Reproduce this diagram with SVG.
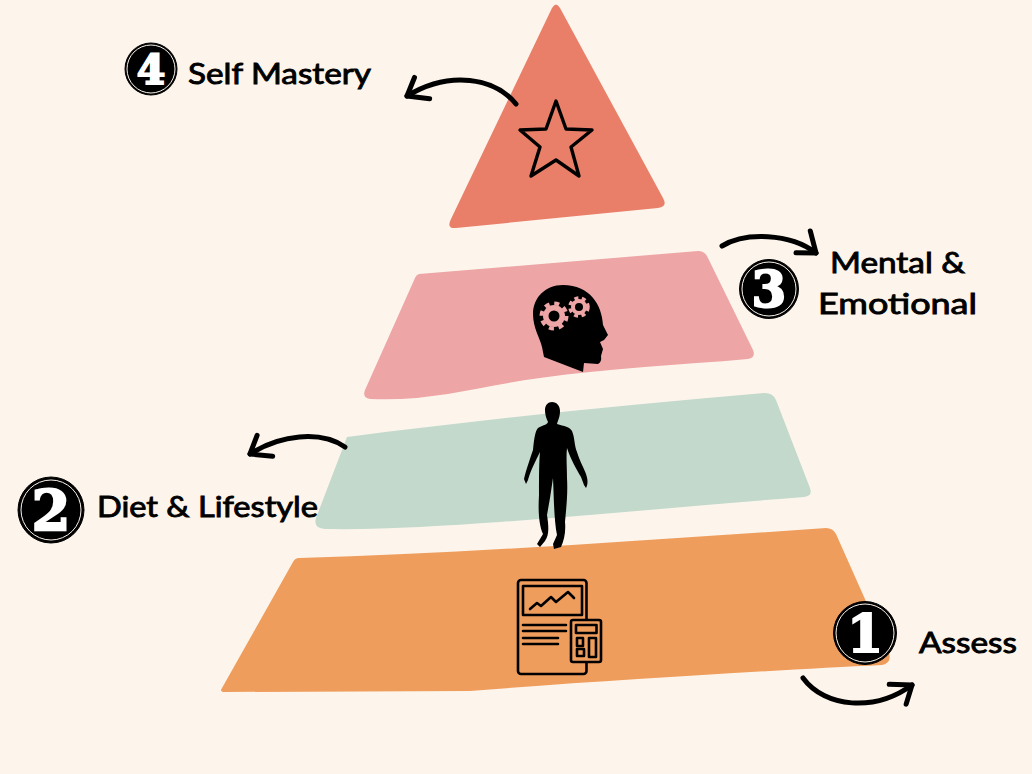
<svg xmlns="http://www.w3.org/2000/svg" width="1032" height="774" viewBox="0 0 1032 774">
<style>
.lbl{font-family:"Lato","Liberation Sans",sans-serif;font-size:29px;fill:#000;stroke:#000;stroke-width:.9px}
.dig{font-family:"DejaVu Serif",serif;font-weight:700;fill:#fff;stroke:#fff;stroke-width:2px;text-anchor:middle}
.arrow{fill:none;stroke:#000;stroke-width:5;stroke-linecap:round;stroke-linejoin:round}
.ring{fill:none;stroke:#fdf5ec;stroke-width:1}
.disc{fill:#000;stroke:#000;stroke-width:1}
.ic{fill:none;stroke:#000;stroke-width:2.6;stroke-linejoin:round;stroke-linecap:round}
.gear{fill:#eda5a6}
</style>
<defs>
<marker id="head" markerUnits="userSpaceOnUse" markerWidth="40" markerHeight="40" refX="20" refY="20" orient="auto" overflow="visible">
<path d="M2,6 L20,20 L4,32" fill="none" stroke="#000" stroke-width="5" stroke-linecap="round" stroke-linejoin="round"/>
</marker>
</defs>
<rect width="1032" height="774" fill="#fdf5ec"/>

<g id="tier-self-mastery">
<path d="M552,8 Q556,1 560,8 L663,198 Q668,207 658,208 L456,228 Q446,229 451,219 Z" fill="#e97f69"/>
<path class="ic" style="stroke-width:3.4" d="M556,101 L566,129 L592,130 L571,147 L579,176 L556,160 L531,176 L540,147 L520,130 L546,129 Z"/>
</g>

<g id="tier-mental">
<path d="M419,274 L698,251 Q704,251 707,256 L753,350 Q756,358 748,359 C680,365 610,368 540,378 C480,386 430,402 370,399 Q362,398 365,390 L415,278 Q416,275 419,274 Z" fill="#eda5a6"/>
<path d="M563,285 C545,285 533,298 533,314 C533,328 540,338 542,347 L544,357 L583,372 L584,363 L598,364 Q602,362 601,356 L603,349 L600,342 L604,340 L608,335 L603,325 C602,305 590,285 563,285 Z" fill="#000"/>
<circle class="gear" cx="554" cy="316" r="11"/>
<circle cx="554" cy="316" r="12.500" fill="none" stroke="#eda5a6" stroke-width="4" stroke-dasharray="5 4.8"/>
<circle cx="554" cy="316" r="5.500" fill="#000"/>
<circle class="gear" cx="579" cy="307" r="8"/>
<circle cx="579" cy="307" r="9" fill="none" stroke="#eda5a6" stroke-width="3.500" stroke-dasharray="4 3.500"/>
<circle cx="579" cy="307" r="4" fill="#000"/>
</g>

<g id="tier-diet">
<path d="M347,437 C480,420 620,405 765,393 Q773,393 776,400 L810,488 Q813,496 804,497 C700,505 600,515 500,522 C440,526 380,530 325,529 Q313,528 316,518 Z" fill="#c3d9cc"/>
</g>

<g id="tier-assess">
<path d="M299,558 C470,553 650,540 826,528 Q833,528 836,534 L889,653 Q892,663 882,665 C780,670 610,680 470,691 L225,692 Q219,692 222,688 L293,562 Q295,558 299,558 Z" fill="#ef9d5c"/>
<g class="ic">
<rect x="518" y="580" width="68.500" height="94" rx="3"/>
<rect x="523" y="586" width="59" height="29"/>
<path d="M530,609 L537,603 L541,606 L551,597 L556,602 L568,592 L574,598"/>
<path d="M523,625 H566 M523,631 H566 M523,638 H558 M523,644 H558"/>
<rect x="571" y="620" width="30" height="42" rx="2" fill="#ef9d5c"/>
<rect x="576" y="625" width="20.500" height="8"/>
<rect x="577" y="638" width="6" height="8"/>
<rect x="577" y="649" width="7" height="7"/>
<rect x="589" y="638" width="7" height="19"/>
</g>
</g>

<g id="figure">
<path d="M552,402 C557,402 560,406 560,411 C560,417 558,420 557,424 C564,426 570,427 572,431 C575,438 574,445 577,452 C580,462 584,468 586,474 C588,480 588,484 586,488 L584,485 L581,477 C577,470 570,458 567,448 C566,458 567,466 567,478 C568,495 566,510 565,522 C566,532 564,540 561,547 L554,549 L553,544 L557,535 C554,520 554,500 553,478 L550,498 L547,515 C549,528 549,535 545,541 L540,547 L537,544 L543,534 C539,525 538,512 539,495 C539,478 539,462 540,452 C535,462 530,472 528,480 L526,484 L524,479 C526,470 531,456 533,450 C534,440 535,431 538,428 C543,425 547,425 548,422 C546,418 545,414 545,410 C545,405 548,402 552,402 Z" fill="#000"/>
</g>

<g id="connectors">
<path class="arrow" marker-end="url(#head)" d="M516,104 C495,78 450,70 407,96"/>
<path class="arrow" marker-end="url(#head)" d="M722,246 C745,232 790,233 816,253"/>
<path class="arrow" marker-end="url(#head)" d="M345,447 C320,430 280,435 250,454"/>
<path class="arrow" marker-end="url(#head)" d="M803,678 C825,708 875,712 912,685"/>
</g>

<g id="label-1">
<circle class="disc" cx="865" cy="633" r="31.500"/><circle class="ring" cx="865" cy="633" r="29"/>
<text class="dig" x="865" y="652" font-size="52">1</text>
<text class="lbl" x="919" y="653" textLength="98" lengthAdjust="spacingAndGlyphs">Assess</text>
</g>
<g id="label-2">
<circle class="disc" cx="51" cy="510" r="33"/><circle class="ring" cx="51" cy="510" r="30"/>
<text class="dig" x="51" y="530" font-size="56">2</text>
<text class="lbl" x="97" y="517" textLength="221" lengthAdjust="spacingAndGlyphs">Diet &amp; Lifestyle</text>
</g>
<g id="label-3">
<circle class="disc" cx="769" cy="289" r="29.500"/><circle class="ring" cx="769" cy="289" r="27"/>
<text class="dig" x="769" y="307" font-size="50">3</text>
<text class="lbl" x="830" y="273" textLength="135" lengthAdjust="spacingAndGlyphs">Mental &amp;</text>
<text class="lbl" x="818" y="314" textLength="159" lengthAdjust="spacingAndGlyphs">Emotional</text>
</g>
<g id="label-4">
<circle class="disc" cx="151" cy="69" r="26"/><circle class="ring" cx="151" cy="69" r="24"/>
<text class="dig" x="151" y="84" font-size="41">4</text>
<text class="lbl" x="188" y="84" textLength="183" lengthAdjust="spacingAndGlyphs">Self Mastery</text>
</g>
</svg>
